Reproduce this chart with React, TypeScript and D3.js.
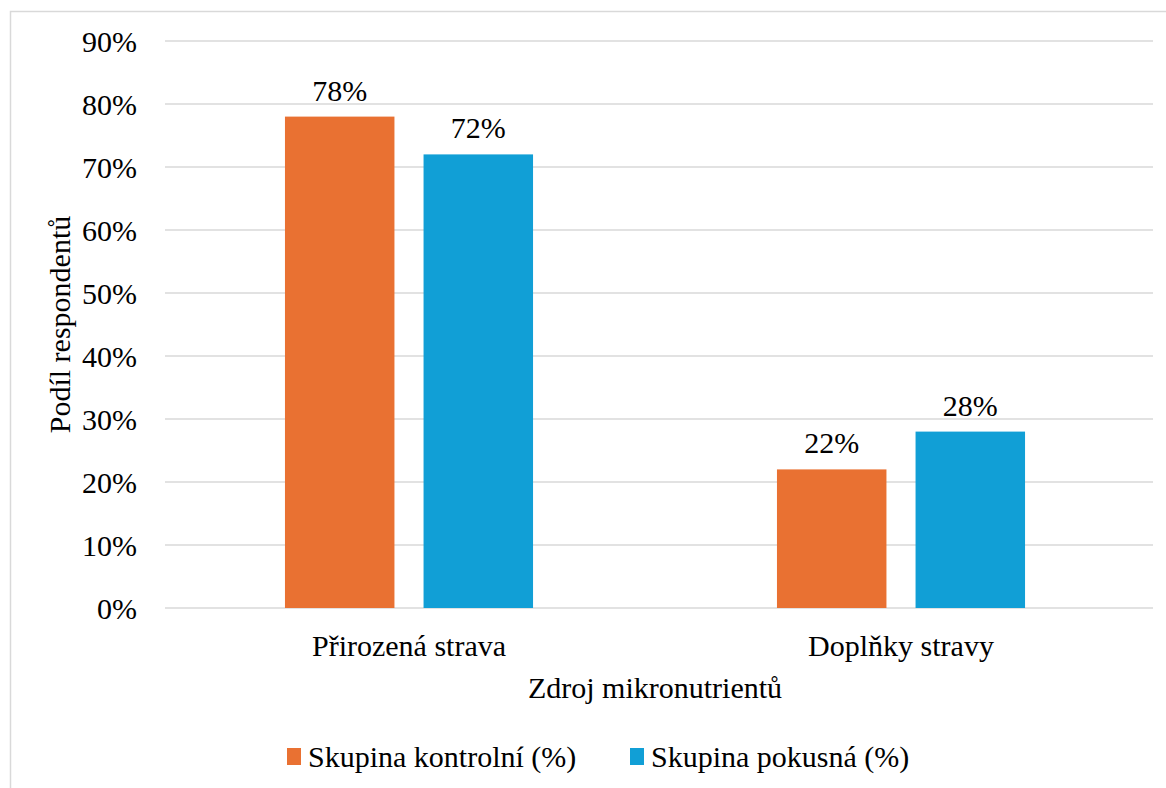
import React from "react";
import * as d3 from "d3";

const categories = ["Přirozená strava", "Doplňky stravy"];
const seriesNames = ["Skupina kontrolní (%)", "Skupina pokusná (%)"];
const controlValues = [78, 22];
const experimentalValues = [72, 28];
const yTicks = [0, 10, 20, 30, 40, 50, 60, 70, 80, 90];
const colors = ["#E97132", "#119FD6"];
const yTitle = "Podíl respondentů";
const xTitle = "Zdroj mikronutrientů";

const W = 1166;
const H = 788;
const FONT = "Liberation Serif";

export default function App() {
  const left = 165, right = 1153, top = 41, bottom = 608;
  const y = d3.scaleLinear().domain([0, 90]).range([bottom, top]);
  const x0 = d3.scaleBand<string>().domain(categories).range([163, 1147]).paddingInner(0).paddingOuter(0);
  const x1 = d3.scaleBand<string>().domain(seriesNames).range([0, x0.bandwidth()]).paddingInner(0.21).paddingOuter(0.88);
  const series = [controlValues, experimentalValues];
  const ts = { fontFamily: FONT, fontSize: 30, fill: "#000" } as React.CSSProperties;

  return (
    <svg width={W} height={H} style={{ position: "absolute", left: 0, top: 0, background: "#fff" }}>
      <rect x={10.5} y={11.5} width={1170} height={800} fill="#fff" stroke="#D9D9D9" strokeWidth={1.5} />
      {yTicks.map((t) => (
        <g key={t}>
          <line x1={left} x2={right} y1={y(t)} y2={y(t)} stroke="#D9D9D9" strokeWidth={1.5} />
          <text x={137} y={y(t)} dy="0.35em" textAnchor="end" style={ts}>
            {t}%
          </text>
        </g>
      ))}
      {categories.map((c, ci) => (
        <g key={c} transform={`translate(${x0(c)},0)`}>
          {seriesNames.map((s, si) => {
            const v = series[si][ci];
            const bx = x1(s)!;
            return (
              <g key={s}>
                <rect x={bx} y={y(v)} width={x1.bandwidth()} height={y(0) - y(v)} fill={colors[si]} />
                <text x={bx + x1.bandwidth() / 2} y={y(v) - 16} textAnchor="middle" style={ts}>
                  {v}%
                </text>
              </g>
            );
          })}
          <text x={x0.bandwidth() / 2} y={656} textAnchor="middle" style={ts}>
            {c}
          </text>
        </g>
      ))}
      <text x={655} y={698} textAnchor="middle" style={ts}>
        {xTitle}
      </text>
      <text transform={`translate(70,${(top + bottom) / 2}) rotate(-90)`} textAnchor="middle" style={ts}>
        {yTitle}
      </text>
      <g>
        {seriesNames.map((s, i) => {
          const lx = i === 0 ? 287 : 630;
          return (
            <g key={s}>
              <rect x={lx} y={748} width={14} height={17} fill={colors[i]} />
              <text x={lx + 21} y={767} style={ts}>
                {s}
              </text>
            </g>
          );
        })}
      </g>
    </svg>
  );
}
